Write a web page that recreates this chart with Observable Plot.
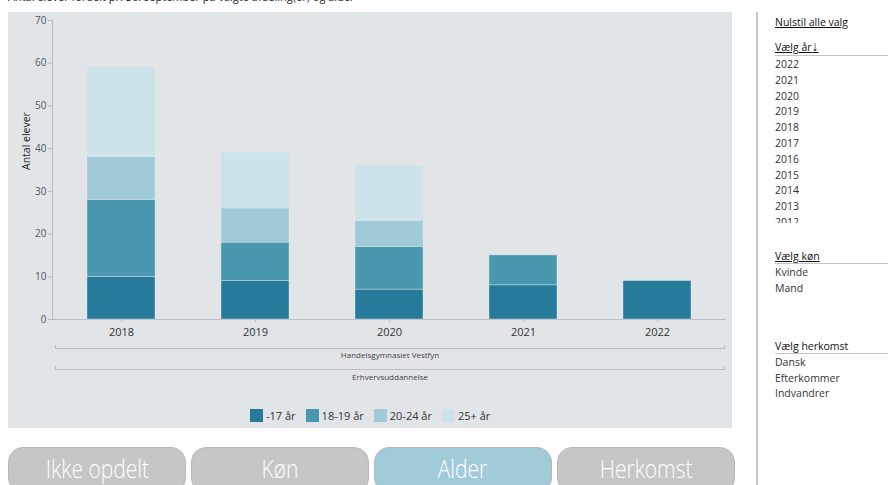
<!DOCTYPE html>
<html>
<head>
<meta charset="utf-8">
<script src="https://cdn.jsdelivr.net/npm/d3@7"></script>
<script src="https://cdn.jsdelivr.net/npm/@observablehq/plot@0.6"></script>
<style>
  html, body { margin:0; padding:0; background:#fff; width:888px; height:485px; overflow:hidden; font-family:"Open Sans","Noto Sans",sans-serif; }
  #root { position:relative; width:888px; height:485px; overflow:hidden; }
  .abs { position:absolute; white-space:nowrap; }
  #title { left:8px; top:-11px; font-size:11px; color:#222; }
  #panel { left:8px; top:12px; width:724px; height:416px; background:#e1e5e8; }
  #chart { left:8px; top:12px; }
  .bracket { position:absolute; border:1px solid #b9bec3; border-top:none; height:3px; }
  .cat { font-size:8px; color:#444; text-align:center; }
  #legend { left:250px; top:408px; display:flex; align-items:center; font-size:11px; color:#333; }
  .sw { width:13px; height:13px; margin-right:3px; }
  .lg { margin-right:10px; }
  .btn { position:absolute; top:447px; height:44px; border-radius:15px; color:#fff; font-family:"Open Sans",sans-serif; font-weight:300; font-size:25px; text-align:center; line-height:40px; }
  .btn span { display:inline-block; transform:scaleX(0.84); }
  #sep { left:756px; top:12px; width:2px; height:480px; background:#c9c9c9; }
  .rt { font-size:10.5px; color:#333; left:775px; }
  .hd { font-size:10.5px; color:#111; left:775px; text-decoration:underline; }
  .hl { position:absolute; left:775px; width:113px; height:1px; background:#c4c4c4; }
</style>
</head>
<body>
<div id="root"></div>
<script>
const years = ["2018", "2019", "2020", "2021", "2022"];
const ageGroups = ["-17 år", "18-19 år", "20-24 år", "25+ år"];
const under17 = [10, 9, 7, 8, 9];
const age1819 = [18, 9, 10, 7, 0];
const age2024 = [10, 8, 6, 0, 0];
const age25plus = [21, 13, 13, 0, 0];
const yTicks = [0, 10, 20, 30, 40, 50, 60, 70];
const ageColors = ["#267a9a", "#4a97b0", "#a0cad8", "#cde3ea"];
const levels = ["Handelsgymnasiet Vestfyn", "Erhvervsuddannelse"];
const buttons = ["Ikke opdelt", "Køn", "Alder", "Herkomst"];
const activeButton = "Alder";
const yearList = ["2022","2021","2020","2019","2018","2017","2016","2015","2014","2013","2012"];
const genders = ["Kvinde", "Mand"];
const origins = ["Dansk", "Efterkommer", "Indvandrer"];

const series = [under17, age1819, age2024, age25plus];
const data = [];
years.forEach((yr, i) => {
  ageGroups.forEach((g, j) => {
    if (series[j][i] > 0) data.push({year: yr, group: g, value: series[j][i]});
  });
});

const root = document.getElementById("root");
function add(html) { root.insertAdjacentHTML("beforeend", html); }

add(`<div class="abs" id="title">Antal elever fordelt pr. 30. september på valgte afdeling(er) og alder</div>`);
add(`<div class="abs" id="panel"></div>`);

const chart = Plot.plot({
  width: 724,
  height: 340,
  marginLeft: 44,
  marginRight: 7,
  marginTop: 8,
  marginBottom: 33,
  style: {background: "transparent", fontFamily: "'Open Sans','Noto Sans',sans-serif", overflow: "visible"},
  x: {domain: years, paddingInner: 0.495, paddingOuter: 0.2475, label: null},
  y: {domain: [0, 70], label: null},
  color: {domain: ageGroups, range: ageColors},
  marks: [
    Plot.frame({anchor: "left", stroke: "#b8bdc2"}),
    Plot.frame({anchor: "bottom", stroke: "#b8bdc2"}),
    Plot.axisY({ticks: yTicks, tickSize: 4, stroke: "#b8bdc2", tickPadding: 2, fontSize: 10, fill: "#555", label: null}),
    Plot.axisX({tickSize: 3, stroke: "#b8bdc2", tickPadding: 6, fontSize: 11, fill: "#333", label: null}),
    Plot.text(["Antal elever"], {frameAnchor: "left", dx: -26, rotate: -90, fontSize: 10.5, fill: "#222"}),
    Plot.barY(data, {x: "year", y: "value", fill: "group", stroke: "#dfe6ea", strokeWidth: 0.6, strokeOpacity: 0.7})
  ]
});
chart.classList.add("abs");
chart.id = "chart";
root.appendChild(chart);

// hierarchical category brackets
add(`<div class="bracket" style="left:55px; top:345px; width:668px;"></div>`);
add(`<div class="abs cat" style="left:55px; width:670px; top:349px;">${levels[0]}</div>`);
add(`<div class="bracket" style="left:55px; top:366px; width:668px;"></div>`);
add(`<div class="abs cat" style="left:55px; width:670px; top:371px;">${levels[1]}</div>`);

// legend
add(`<div class="abs" id="legend">${ageGroups.map((g,i)=>`<div class="sw" style="background:${ageColors[i]}"></div><span class="lg">${g}</span>`).join("")}</div>`);

// buttons
const bx = [8, 191, 374, 557];
buttons.forEach((b, i) => {
  const bg = b === activeButton ? "#a1cbd9" : "#c6c6c6";
  add(`<div class="btn" style="left:${bx[i]}px; width:176px; background:${bg}; border:1px solid #b8b8b8;"><span>${b}</span></div>`);
});

// right panel
add(`<div class="abs" id="sep"></div>`);
add(`<div class="abs hd" style="top:15px;">Nulstil alle valg</div>`);
add(`<div class="abs hd" style="top:40px;">Vælg år<span style="font-size:14px; line-height:10px;">↓</span></div>`);
add(`<div class="hl" style="top:55px;"></div>`);
add(`<div class="abs" style="left:775px; top:57px; width:110px; height:166px; overflow:hidden;">${yearList.map((y,i)=>`<div class="abs rt" style="left:0; top:${i*15.8}px;">${y}</div>`).join("")}</div>`);
add(`<div class="abs hd" style="top:249px;">Vælg køn</div>`);
add(`<div class="hl" style="top:263px;"></div>`);
genders.forEach((g,i)=>add(`<div class="abs rt" style="top:${265+i*15.5}px;">${g}</div>`));
add(`<div class="abs hd" style="top:339px; text-decoration:none;">Vælg herkomst</div>`);
add(`<div class="hl" style="top:353px;"></div>`);
origins.forEach((g,i)=>add(`<div class="abs rt" style="top:${355+i*15.5}px;">${g}</div>`));
</script>
</body>
</html>
